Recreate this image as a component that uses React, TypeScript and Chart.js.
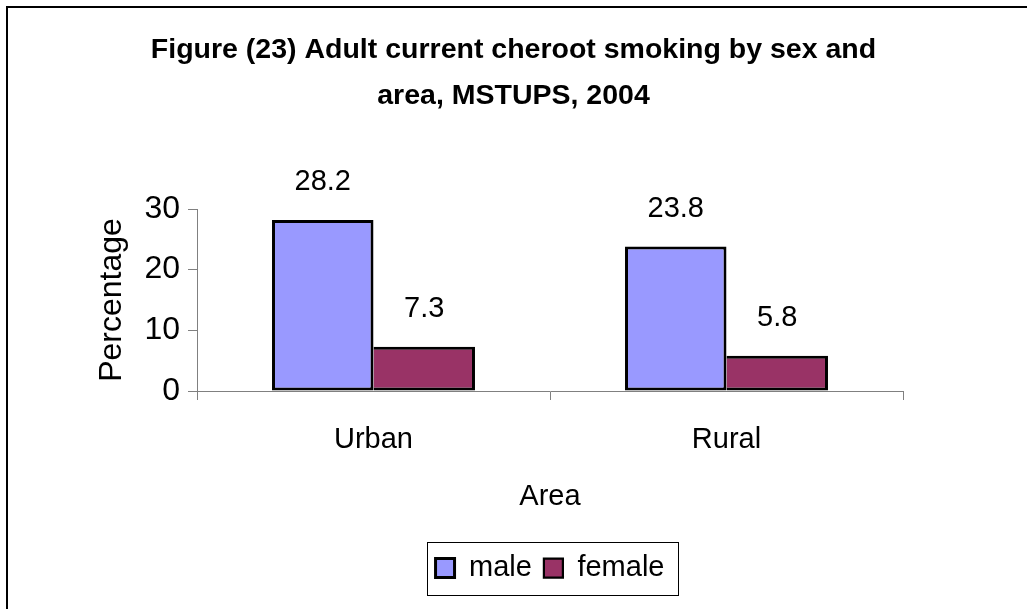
import { useEffect, useRef } from 'react';
import { Chart, registerables } from 'chart.js';

Chart.register(...registerables);

const titleLines = ['Figure (23) Adult current cheroot smoking by sex and', 'area, MSTUPS, 2004'];
const categories = ['Urban', 'Rural'];
const seriesNames = ['male', 'female'];
const maleValues = [28.2, 23.8];
const femaleValues = [7.3, 5.8];
const yMin = 0;
const yMax = 30;
const yStep = 10;
const xAxisTitle = 'Area';
const yAxisTitle = 'Percentage';

const FONT = "'Liberation Sans', Arial, Helvetica, sans-serif";

const framePlugin = {
  id: 'frame',
  beforeDraw(chart: any) {
    const { ctx, width, height } = chart;
    ctx.save();
    ctx.fillStyle = '#ffffff';
    ctx.fillRect(0, 0, width, height);
    ctx.strokeStyle = '#000000';
    ctx.lineWidth = 2;
    ctx.beginPath();
    ctx.moveTo(7, height + 4);
    ctx.lineTo(7, 7);
    ctx.lineTo(width + 4, 7);
    ctx.stroke();
    ctx.restore();
  },
};

const valueLabelPlugin = {
  id: 'valueLabels',
  afterDatasetsDraw(chart: any) {
    const { ctx } = chart;
    ctx.save();
    ctx.font = `29px ${FONT}`;
    ctx.fillStyle = '#000000';
    ctx.textAlign = 'center';
    ctx.textBaseline = 'middle';
    chart.data.datasets.forEach((ds: any, di: number) => {
      const meta = chart.getDatasetMeta(di);
      meta.data.forEach((el: any, i: number) => {
        const v = ds.data[i] as number;
        ctx.fillText(v.toFixed(1), el.x, el.y - 38);
      });
    });
    ctx.restore();
  },
};

const legendBoxPlugin = {
  id: 'legendBox',
  afterDraw(chart: any) {
    const lg = chart.legend;
    if (!lg || !lg.legendHitBoxes || !lg.legendHitBoxes.length) return;
    const hb = lg.legendHitBoxes;
    const first = hb[0];
    const last = hb[hb.length - 1];
    const cy = first.top + first.height / 2;
    const left = Math.round(first.left - 9) + 0.5;
    const right = Math.round(last.left + last.width + 14) + 0.5;
    const top = Math.round(cy - 26.5) + 0.5;
    const { ctx } = chart;
    ctx.save();
    ctx.strokeStyle = '#000000';
    ctx.lineWidth = 1;
    ctx.strokeRect(left, top, right - left, 53);
    ctx.restore();
  },
};

export default function App() {
  const ref = useRef<HTMLCanvasElement>(null);

  useEffect(() => {
    if (!ref.current) return;
    const chart = new Chart(ref.current, {
      type: 'bar',
      data: {
        labels: categories,
        datasets: [
          {
            label: seriesNames[0],
            data: maleValues,
            backgroundColor: '#9999FF',
            borderColor: '#000000',
            borderWidth: 3,
            borderSkipped: false,
          },
          {
            label: seriesNames[1],
            data: femaleValues,
            backgroundColor: '#993366',
            borderColor: '#000000',
            borderWidth: { top: 3, right: 3, bottom: 3, left: 0 },
            borderSkipped: false,
          },
        ],
      },
      options: {
        responsive: false,
        animation: false,
        devicePixelRatio: 1,
        events: [],
        datasets: {
          bar: {
            categoryPercentage: 0.575,
            barPercentage: 1,
          },
        },
        layout: { padding: { top: 0, left: 0, right: 0, bottom: 16.5 } },
        plugins: {
          tooltip: { enabled: false },
          title: {
            display: true,
            text: titleLines,
            color: '#000000',
            font: { family: FONT, size: 28.5, weight: 'bold', lineHeight: 1.6 },
            padding: { top: 27.5, bottom: 90.3 },
          },
          legend: {
            display: true,
            position: 'bottom',
            fullSize: false,
            labels: {
              color: '#000000',
              font: { family: FONT, size: 29 },
              boxWidth: 19,
              boxHeight: 19,
              padding: 12,
            },
          },
        },
        scales: {
          x: {
            type: 'category',
            offset: true,
            grid: {
              offset: true,
              drawOnChartArea: false,
              drawTicks: true,
              tickLength: 9,
              color: '#808080',
              lineWidth: 1,
            },
            border: { color: '#808080', width: 1 },
            ticks: {
              color: '#000000',
              font: { family: FONT, size: 29 },
              padding: 23,
              maxRotation: 0,
            },
            title: {
              display: true,
              text: xAxisTitle,
              color: '#000000',
              font: { family: FONT, size: 29 },
              padding: { top: 0, bottom: 27 },
            },
            afterFit: (s: any) => {
              s.height = 150.5;
            },
          },
          y: {
            type: 'linear',
            position: 'left',
            min: yMin,
            max: yMax,
            grid: {
              drawOnChartArea: false,
              drawTicks: true,
              tickLength: 9,
              color: '#808080',
              lineWidth: 1,
            },
            border: { color: '#808080', width: 1 },
            ticks: {
              stepSize: yStep,
              color: '#000000',
              font: { family: FONT, size: 32 },
              padding: 8,
            },
            title: {
              display: true,
              text: yAxisTitle,
              color: '#000000',
              font: { family: FONT, size: 32 },
              padding: { top: 92.6, bottom: 0 },
            },
            afterFit: (s: any) => {
              s.width = 197;
            },
          },
          yRight: {
            type: 'linear',
            position: 'right',
            display: true,
            grid: { display: false },
            border: { display: false },
            ticks: { display: false },
            afterFit: (s: any) => {
              s.width = 124;
            },
          },
        },
      },
      plugins: [framePlugin, valueLabelPlugin, legendBoxPlugin],
    } as any);
    return () => chart.destroy();
  }, []);

  return (
    <div style={{ position: 'fixed', left: 0, top: 0, width: 1027, height: 609, background: '#ffffff' }}>
      <canvas ref={ref} width={1027} height={609} style={{ display: 'block' }} />
    </div>
  );
}
